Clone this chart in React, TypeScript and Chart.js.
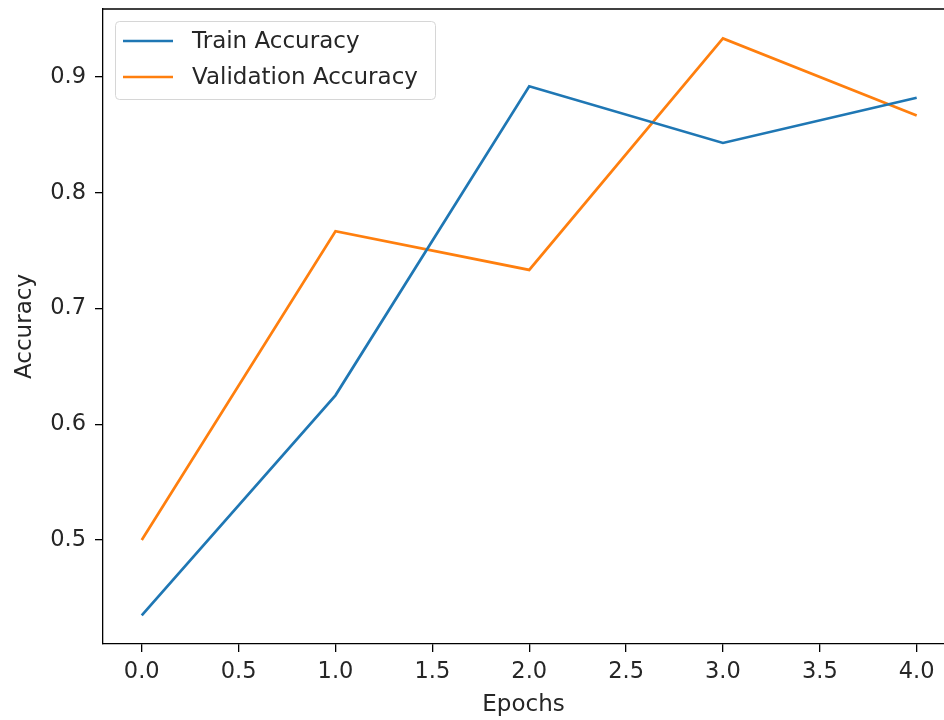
import React, { useEffect, useRef } from "react";
import { Chart, registerables } from "chart.js";

Chart.register(...registerables);

const epochs = [0, 1, 2, 3, 4];
const trainAccuracy = [0.435, 0.625, 0.892, 0.843, 0.882];
const validationAccuracy = [0.5, 0.7667, 0.7333, 0.9333, 0.8667];
const xTicks = [0, 0.5, 1, 1.5, 2, 2.5, 3, 3.5, 4];
const yTicks = [0.5, 0.6, 0.7, 0.8, 0.9];
const seriesNames = ["Train Accuracy", "Validation Accuracy"];
const seriesColors = ["#1f77b4", "#ff7f0e"];

const FONT = "'DejaVu Sans', sans-serif";
const TEXT = "#262626";
const TICK_SIZE = 22.5;
const LABEL_SIZE = 23;

const framePlugin = {
  id: "frame",
  afterDraw(chart: any) {
    const { ctx, chartArea } = chart;
    ctx.save();
    ctx.strokeStyle = "#000";
    ctx.lineWidth = 1.3;
    ctx.beginPath();
    ctx.moveTo(chartArea.left, chartArea.top);
    ctx.lineTo(chartArea.right, chartArea.top);
    ctx.stroke();

    // legend (matplotlib style)
    const bx = 115, by = 21, bw = 320, bh = 78, r = 4;
    ctx.globalAlpha = 0.8;
    ctx.fillStyle = "#fff";
    ctx.beginPath();
    ctx.roundRect(bx + 0.5, by + 0.5, bw, bh, r);
    ctx.fill();
    ctx.globalAlpha = 1;
    ctx.strokeStyle = "#d6d6d6";
    ctx.lineWidth = 1;
    ctx.stroke();
    ctx.font = `${LABEL_SIZE}px ${FONT}`;
    ctx.textBaseline = "middle";
    ctx.textAlign = "left";
    chart.data.datasets.forEach((ds: any, i: number) => {
      const y = 41 + i * 36;
      ctx.strokeStyle = ds.borderColor;
      ctx.lineWidth = 2.7;
      ctx.beginPath();
      ctx.moveTo(123, y);
      ctx.lineTo(173, y);
      ctx.stroke();
      ctx.fillStyle = TEXT;
      ctx.fillText(ds.label, 192, y + 1);
    });
    ctx.restore();
  },
};

export default function App() {
  const ref = useRef<HTMLCanvasElement>(null);
  useEffect(() => {
    if (!ref.current) return;
    const chart = new Chart(ref.current, {
      type: "line",
      data: {
        datasets: [trainAccuracy, validationAccuracy].map((vals, i) => ({
          label: seriesNames[i],
          data: epochs.map((e, j) => ({ x: e, y: vals[j] })),
          borderColor: seriesColors[i],
          backgroundColor: seriesColors[i],
          borderWidth: 2.7,
          pointRadius: 0,
          tension: 0,
          fill: false,
        })),
      },
      options: {
        animation: false,
        responsive: false,
        devicePixelRatio: 1,
        layout: { padding: { top: 9, left: 0, right: 0, bottom: 0 } },
        plugins: {
          legend: { display: false },
          tooltip: { enabled: false },
        },
        scales: {
          x: {
            type: "linear",
            min: -0.2,
            max: 4.141,
            afterFit: (s: any) => {
              s.height = 76;
              s.paddingLeft = 0;
              s.paddingRight = 0;
            },
            afterBuildTicks: (s: any) => {
              s.ticks = xTicks.map((v) => ({ value: v }));
            },
            grid: {
              drawOnChartArea: false,
              drawTicks: true,
              tickLength: 8,
              color: "#000",
              lineWidth: 1.3,
            },
            border: { display: true, color: "#000", width: 1.3 },
            ticks: {
              color: TEXT,
              font: { family: FONT, size: TICK_SIZE },
              padding: 7,
              maxRotation: 0,
              autoSkip: false,
              callback: (v: any) => Number(v).toFixed(1),
            },
            title: {
              display: true,
              text: "Epochs",
              color: TEXT,
              font: { family: FONT, size: LABEL_SIZE },
              padding: { top: 0, bottom: 1 },
            },
          },
          y: {
            type: "linear",
            min: 0.4102,
            max: 0.9587,
            afterFit: (s: any) => {
              s.width = 103;
              s.paddingTop = 0;
              s.paddingBottom = 0;
            },
            afterBuildTicks: (s: any) => {
              s.ticks = yTicks.map((v) => ({ value: v }));
            },
            grid: {
              drawOnChartArea: false,
              drawTicks: true,
              tickLength: 8,
              color: "#000",
              lineWidth: 1.3,
            },
            border: { display: true, color: "#000", width: 1.3 },
            ticks: {
              color: TEXT,
              font: { family: FONT, size: TICK_SIZE },
              padding: 9,
              autoSkip: false,
              callback: (v: any) => Number(v).toFixed(1),
            },
            title: {
              display: true,
              text: "Accuracy",
              color: TEXT,
              font: { family: FONT, size: LABEL_SIZE },
              padding: { top: 11, bottom: 0 },
            },
          },
        },
      },
      plugins: [framePlugin],
    } as any);
    return () => chart.destroy();
  }, []);
  return (
    <div style={{ position: "absolute", left: 0, top: 0, width: 944, height: 720, background: "#fff" }}>
      <canvas ref={ref} width={944} height={720} style={{ display: "block" }} />
    </div>
  );
}
